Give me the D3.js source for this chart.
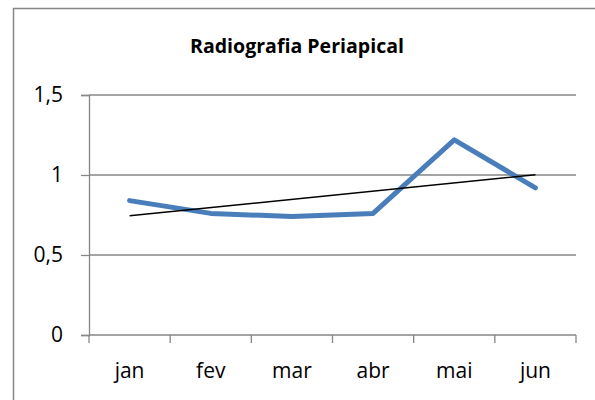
<!DOCTYPE html>
<html>
<head>
<meta charset="utf-8">
<script src="https://cdn.jsdelivr.net/npm/d3@7"></script>
<style>
  body { margin: 0; background: #fff; }
  svg text { font-family: "Open Sans", sans-serif; fill: #000; }
</style>
</head>
<body>
<svg id="chart" width="595" height="400"></svg>
<script>
(function(){
  // chart data
  var months = ['jan', 'fev', 'mar', 'abr', 'mai', 'jun']
  var values = [0.84, 0.76, 0.74, 0.76, 1.22, 0.92]
  var yTicks = [0, 0.5, 1, 1.5]
  var title = 'Radiografia Periapical'

  var svg = d3.select('#chart'),
      width = +svg.attr('width'),
      height = +svg.attr('height')

  var plot = {left: 89, right: 576, top: 95, bottom: 335}
  var grey = '#868686'

  // outer chart border (runs off the page on the right / bottom)
  svg.append('rect')
    .attr('x', 13.5).attr('y', 8.5)
    .attr('width', width + 20).attr('height', height + 20)
    .attr('fill', 'none').attr('stroke', grey).attr('stroke-width', 1.5)

  svg.append('text')
    .text(title)
    .attr('x', 297).attr('y', 53)
    .attr('text-anchor', 'middle')
    .attr('font-weight', 'bold')
    .attr('font-size', '20px')
    .attr('textLength', 214)
    .attr('lengthAdjust', 'spacingAndGlyphs')

  var xScale = d3.scaleBand()
    .domain(months)
    .range([plot.left, plot.right])

  var yScale = d3.scaleLinear()
    .domain([0, 1.5])
    .range([plot.bottom, plot.top])

  // gridlines
  svg.append('g').attr('class', 'grid')
    .selectAll('line')
    .data(yTicks.filter(d => d > 0))
    .enter().append('line')
    .attr('x1', plot.left).attr('x2', plot.right)
    .attr('y1', d => yScale(d)).attr('y2', d => yScale(d))
    .attr('stroke', grey).attr('stroke-width', 1.3)

  // y axis
  var yAxis = d3.axisLeft(yScale)
    .tickValues(yTicks)
    .tickSize(8)
    .tickPadding(18)
    .tickFormat(d => String(d).replace('.', ','))

  var gy = svg.append('g')
    .attr('transform', 'translate(' + plot.left + ',0)')
    .call(yAxis)
  gy.selectAll('path, line').attr('stroke', grey).attr('stroke-width', 1.3)
  gy.selectAll('text').attr('font-size', '21px').attr('fill', '#000')
    .attr('font-family', '"Open Sans", sans-serif')

  // x axis: ticks on category boundaries
  var gx = svg.append('g')
    .attr('transform', 'translate(0,' + plot.bottom + ')')
  gx.append('line')
    .attr('x1', plot.left).attr('x2', plot.right)
    .attr('stroke', grey).attr('stroke-width', 1.3)
  var bounds = months.map(m => xScale(m)).concat([plot.right])
  gx.selectAll('line.tick')
    .data(bounds).enter().append('line')
    .attr('class', 'tick')
    .attr('x1', d => d).attr('x2', d => d)
    .attr('y1', 0).attr('y2', 8)
    .attr('stroke', grey).attr('stroke-width', 1.3)
  gx.selectAll('text')
    .data(months).enter().append('text')
    .text(d => d)
    .attr('x', d => xScale(d) + xScale.bandwidth() / 2)
    .attr('y', 43)
    .attr('text-anchor', 'middle')
    .attr('font-size', '21px')

  var cx = d => xScale(d) + xScale.bandwidth() / 2

  // data line
  var lineGenerator = d3.line()
  svg.append('path')
    .attr('d', lineGenerator(values.map((v, i) => [cx(months[i]), yScale(v)])))
    .attr('fill', 'none')
    .attr('stroke', '#4a7ebb')
    .attr('stroke-width', 5)
    .attr('stroke-linejoin', 'round')
    .attr('stroke-linecap', 'round')

  // linear trendline (least squares)
  var n = values.length
  var mx = d3.mean(values, (v, i) => i)
  var my = d3.mean(values)
  var sxy = d3.sum(values, (v, i) => (i - mx) * (v - my))
  var sxx = d3.sum(values, (v, i) => (i - mx) * (i - mx))
  var slope = sxy / sxx, icpt = my - slope * mx
  svg.append('path')
    .attr('d', lineGenerator([0, n - 1].map(i => [cx(months[i]), yScale(icpt + slope * i)])))
    .attr('fill', 'none')
    .attr('stroke', '#000')
    .attr('stroke-width', 1.5)
})()
</script>
</body>
</html>
